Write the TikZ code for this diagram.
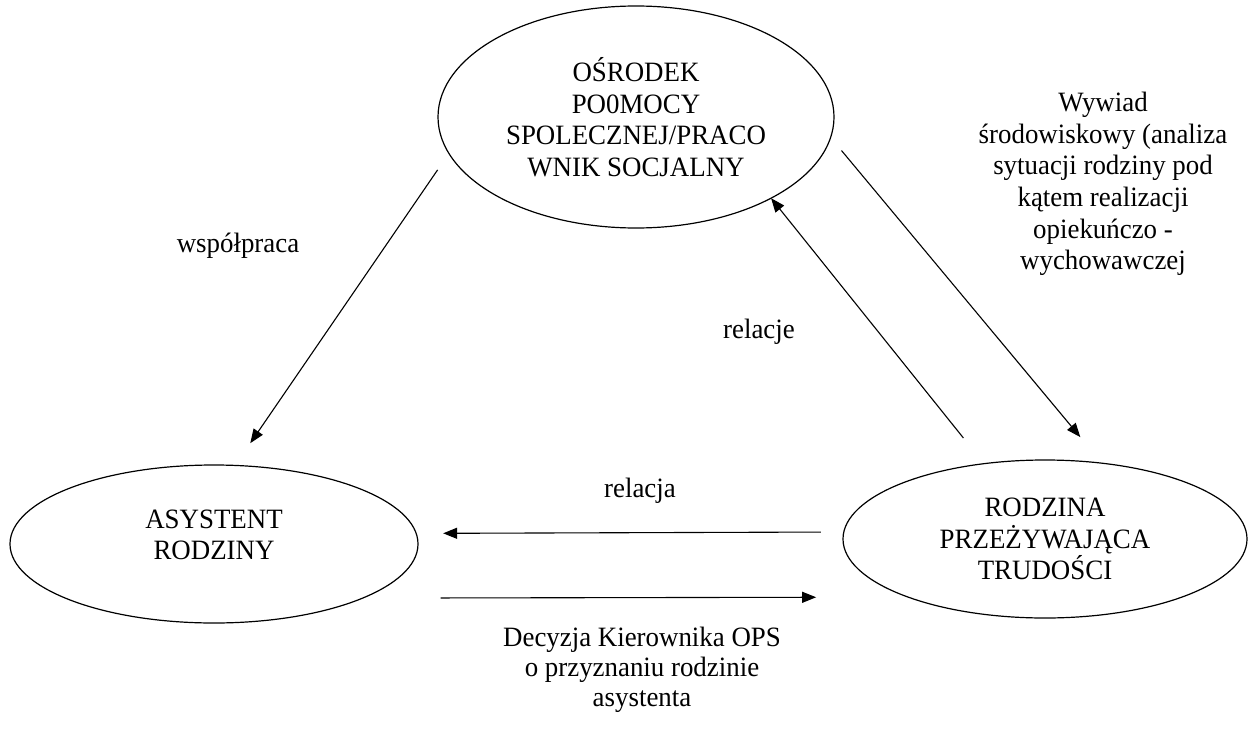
\documentclass[tikz,border=0pt]{standalone}
\usepackage{fontspec}
\setmainfont{Liberation Serif}[FakeStretch=0.96]
\usetikzlibrary{arrows.meta,shapes.geometric}
\begin{document}
\begin{tikzpicture}[x=1pt,y=-1pt,
  every node/.style={font=\fontsize{28}{31.5}\selectfont, inner sep=0pt, outer sep=0pt},
  ell/.style={draw, ellipse, line width=1.2pt, align=center},
  lbl/.style={align=center},
  arr/.style={-{Triangle[length=14pt,width=11pt]}, line width=1.1pt}]
\path[use as bounding box] (0,0) rectangle (1248,736);
% ellipses
\node[ell, minimum width=396pt, minimum height=222pt] (ops) at (636,117)
  {OŚRODEK\\PO0MOCY\\SPOLECZNEJ/PRACO\\WNIK SOCJALNY};
\node[ell, minimum width=408pt, minimum height=158pt, text depth=18.5pt] (asy) at (214,544)
  {ASYSTENT\\RODZINY};
\node[ell, minimum width=404pt, minimum height=158pt] (rodz) at (1045,539)
  {RODZINA\\PRZEŻYWAJĄCA\\TRUDOŚCI};
% labels
\node[anchor=base] (lwsp) at (238,252) {współpraca};
\node[anchor=base] (lrelacje) at (759,338) {relacje};
\node[anchor=base] (lrelacja) at (640,497) {relacja};
\node[lbl, font=\fontsize{28}{31.6}\selectfont] (lwyw) at (1103,184)
  {Wywiad\\środowiskowy (analiza\\sytuacji rodziny pod\\kątem realizacji\\opiekuńczo -\\wychowawczej};
\node[lbl, font=\fontsize{28}{30}\selectfont] (ldec) at (642,670)
  {Decyzja Kierownika OPS\\o przyznaniu rodzinie\\asystenta};
% connectors
\draw[arr, shorten <=20pt, shorten >=27pt] (ops.191.8) -- (asy.75.4);
\draw[arr, shorten <=33pt] (rodz.129.9) -- (ops.329.4);
\draw[arr, shorten <=17pt, shorten >=34pt] (ops.354.7) -- (rodz.53.2);
\draw[arr, shorten <=23pt, shorten >=27pt] (rodz.178) -- (asy.3.4);
\draw[arr, shorten <=78pt, shorten >=92pt] (asy.340.1) -- (rodz.203.7);
\end{tikzpicture}
\end{document}
